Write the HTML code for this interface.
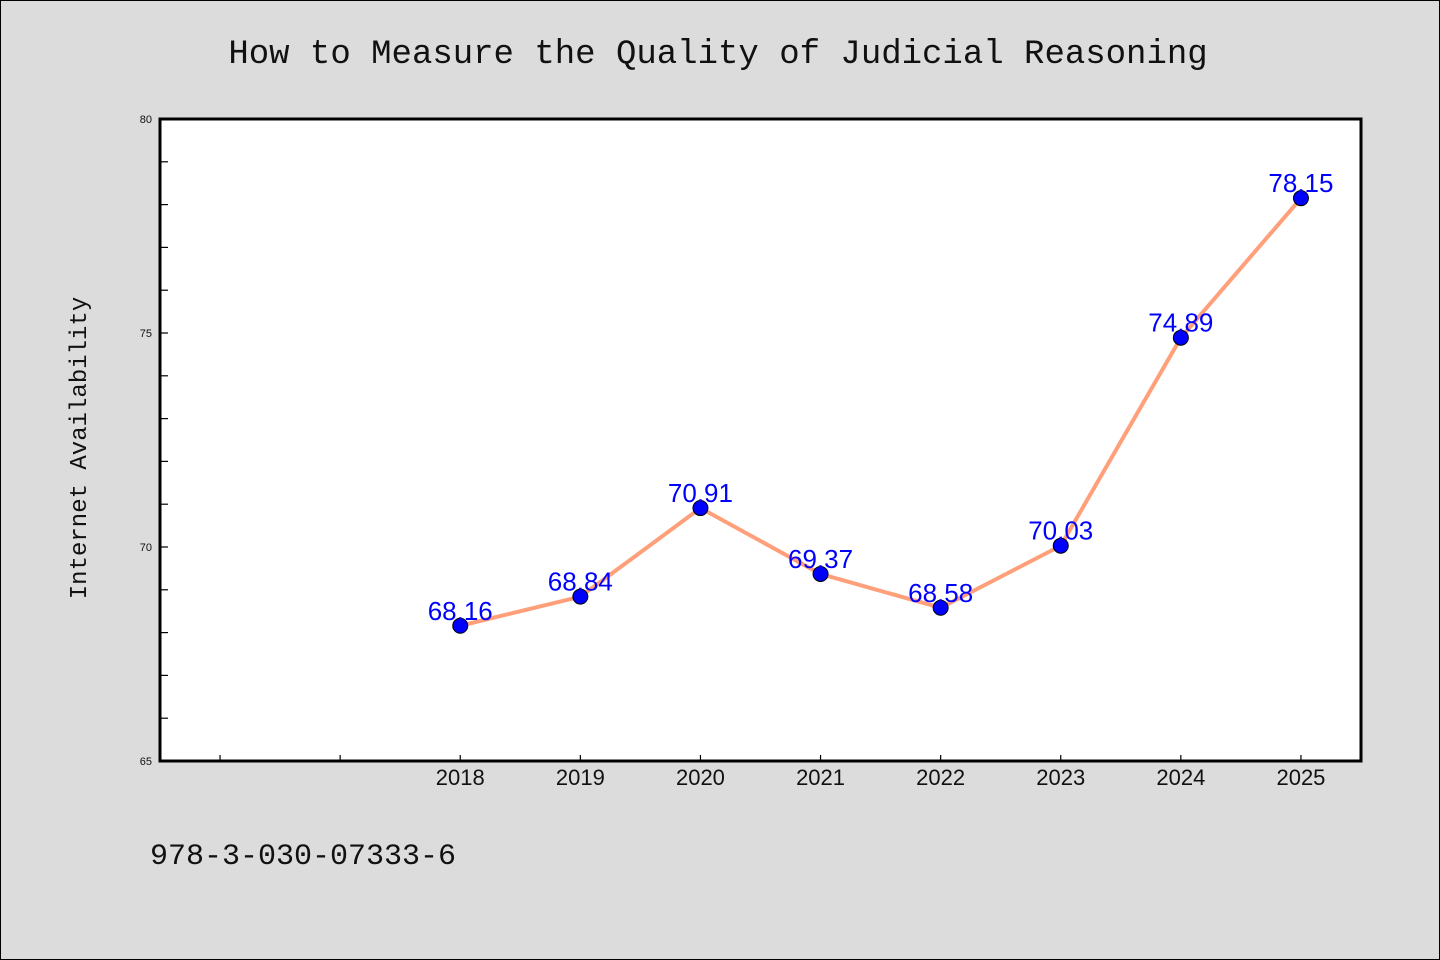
<!DOCTYPE html>
<html><head><meta charset="utf-8"><style>
body{margin:0;background:#dcdcdc;}
svg{display:block;font-family:"Liberation Sans","WenQuanYi Zen Hei",sans-serif;}
</style></head><body>
<svg width="1440" height="960">
<rect x="0.5" y="0.5" width="1439" height="959" fill="#dcdcdc" stroke="#000"/>
<text x="718" y="63" text-anchor="middle" font-family="Liberation Mono, monospace" font-size="34" fill="#111">How to Measure the Quality of Judicial Reasoning</text>
<rect x="160" y="119" width="1201" height="642" fill="#fff" stroke="#000" stroke-width="3"/>
<g id="axes"></g>
<g id="series"></g>
<text transform="translate(86,448) rotate(-90)" text-anchor="middle" font-family="Liberation Mono, monospace" font-size="24" fill="#111">Internet Availability</text>
<text x="150" y="864" font-family="Liberation Mono, monospace" font-size="30" fill="#111">978-3-030-07333-6</text>
</svg>
<script>
const years=[2018,2019,2020,2021,2022,2023,2024,2025];
const values=[68.16,68.84,70.91,69.37,68.58,70.03,74.89,78.15];
const yLabels=[65,70,75,80];
const xTickYears=[2016,2017,2018,2019,2020,2021,2022,2023,2024,2025];
const NS="http://www.w3.org/2000/svg";
const X0=160,X1=1361,Y0=761,Y1=119,xmin=2015.5,xmax=2025.5,ymin=65,ymax=80;
const sx=v=>X0+(v-xmin)/(xmax-xmin)*(X1-X0);
const sy=v=>Y0-(v-ymin)/(ymax-ymin)*(Y0-Y1);
function mk(t,a,p){const e=document.createElementNS(NS,t);for(const k in a)e.setAttribute(k,a[k]);p.appendChild(e);return e;}
const ax=document.getElementById('axes'),se=document.getElementById('series');
for(let v=ymin;v<=ymax;v++){
 const l=mk('line',{x1:X0,x2:X0+8,y1:sy(v),y2:sy(v),stroke:'#000','stroke-width':1.2},ax);
 
 
}
yLabels.forEach(v=>{
 const t=mk('text',{x:X0-8,y:sy(v)+4,'text-anchor':'end','font-size':11,fill:'#111'},ax);
 t.textContent=v;
 
 
});
xTickYears.forEach(y=>{
 const l=mk('line',{x1:sx(y),x2:sx(y),y1:Y0,y2:Y0-6,stroke:'#000','stroke-width':1.2},ax);
 
 
});
years.forEach(y=>{
 const t=mk('text',{x:sx(y),y:Y0+24,'text-anchor':'middle','font-size':22,fill:'#111'},ax);
 t.textContent=y;
 
 
});
const pl=mk('polyline',{points:years.map((y,i)=>sx(y)+','+sy(values[i])).join(' '),fill:'none',stroke:'#ffa07a','stroke-width':4,'stroke-linejoin':'round'},se);


years.forEach((y,i)=>{
 const c=mk('circle',{cx:sx(y),cy:sy(values[i]),r:7.5,fill:'#0000ff',stroke:'#000','stroke-width':1},se);
 
 
 const t=mk('text',{x:sx(y),y:sy(values[i])-6,'text-anchor':'middle','font-size':26,fill:'#0000ff'},se);
 t.textContent=values[i].toFixed(2);
 
 
});
</script>
</body></html>
